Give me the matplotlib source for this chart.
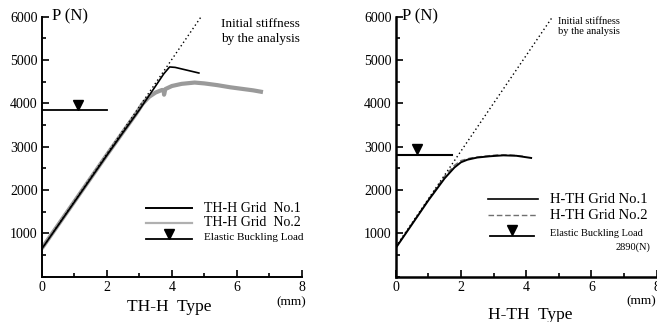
import matplotlib
matplotlib.use("Agg")
import matplotlib.pyplot as plt
from matplotlib.ticker import MultipleLocator

plt.rcParams["font.family"] = ["Liberation Serif", "DejaVu Serif"]

# TH-H type (left panel)
thh_no1_x = [0, 0.5, 1.0, 1.5, 2.0, 2.5, 3.0, 3.5, 3.75, 3.93, 4.1, 4.83]
thh_no1_p = [640, 1180, 1720, 2260, 2800, 3330, 3850, 4400, 4680, 4840, 4830, 4700]
thh_no2_x = [0, 0.5, 1.0, 1.5, 2.0, 2.5, 2.9, 3.1, 3.3, 3.5, 3.7, 3.75, 3.76, 3.8,
             4.0, 4.3, 4.7, 5.0, 5.4, 5.8, 6.2, 6.5, 6.8]
thh_no2_p = [650, 1190, 1730, 2270, 2810, 3340, 3760, 3990, 4150, 4250, 4310, 4300, 4200, 4330,
             4400, 4450, 4480, 4460, 4420, 4370, 4330, 4300, 4260]
thh_init_x = [0, 4.9]
thh_init_p = [640, 6000]
thh_buckle_x = [0, 2.0]
thh_buckle_p = 3850
thh_marker_x = 1.1

# H-TH type (right panel)
hth_no1_x = [0, 0.5, 1.0, 1.5, 1.8, 2.0, 2.2, 2.5, 2.9, 3.3, 3.7, 4.15]
hth_no1_p = [660, 1210, 1760, 2270, 2520, 2640, 2700, 2750, 2780, 2800, 2790, 2740]
hth_no2_x = [0, 0.5, 1.0, 1.5, 1.8, 2.0, 2.3, 2.7, 3.1, 3.5, 3.9]
hth_no2_p = [670, 1220, 1780, 2320, 2570, 2680, 2740, 2780, 2810, 2810, 2780]
hth_init_x = [0, 4.8]
hth_init_p = [690, 5990]
hth_buckle_x = [0, 1.72]
hth_buckle_p = 2810
hth_marker_x = 0.66

fig = plt.figure(figsize=(6.57, 3.22), dpi=100)
ax1 = fig.add_axes([0.0635, 0.1407, 0.3962, 0.8075])
ax2 = fig.add_axes([0.6023, 0.1407, 0.3973, 0.8075])


def style_axes(ax, lw):
    ax.set_xlim(0, 8)
    ax.set_ylim(0, 6000)
    for s in ("top", "right"):
        ax.spines[s].set_visible(False)
    ax.spines["left"].set_linewidth(lw)
    ax.spines["bottom"].set_linewidth(lw)
    ax.xaxis.set_major_locator(MultipleLocator(2))
    ax.xaxis.set_minor_locator(MultipleLocator(1))
    ax.yaxis.set_major_locator(MultipleLocator(1000))
    ax.yaxis.set_minor_locator(MultipleLocator(500))
    ax.tick_params(which="both", direction="in", labelsize=10, width=1.2)
    ax.tick_params(which="major", length=5)
    ax.tick_params(which="minor", length=3)
    ax.tick_params(axis="x", pad=3)
    ax.tick_params(axis="y", pad=3)
    ax.set_yticks(range(1000, 6001, 1000))
    ax.patch.set_visible(False)


# ---- left panel ----
style_axes(ax1, 1.4)
ax1.plot(thh_no2_x, thh_no2_p, color="#9a9a9a", lw=3.0, solid_capstyle="butt")
ax1.plot(thh_no1_x, thh_no1_p, color="black", lw=1.2)
ax1.plot(thh_init_x, thh_init_p, color="black", lw=1.0, ls=(0, (1, 2)))
ax1.plot(thh_buckle_x, [thh_buckle_p] * 2, color="black", lw=1.3)
ax1.plot([thh_marker_x], [thh_buckle_p + 110], marker="v", color="black", ms=7, ls="none")

ax1.text(0.04, 1.0, "P (N)", transform=ax1.transAxes, fontsize=12, va="center", ha="left")
ax1.text(0.69, 0.995, "Initial stiffness\nby the analysis", transform=ax1.transAxes,
         fontsize=9.5, va="top", ha="left", linespacing=1.3)

ax1.plot([0.40, 0.577], [0.263, 0.263], color="black", lw=1.4, transform=ax1.transAxes)
ax1.plot([0.40, 0.577], [0.208, 0.208], color="#b0b0b0", lw=1.6, transform=ax1.transAxes)
ax1.plot([0.40, 0.577], [0.145, 0.145], color="black", lw=1.3, transform=ax1.transAxes)
ax1.plot([0.49], [0.166], marker="v", color="black", ms=7, transform=ax1.transAxes)
ax1.text(0.624, 0.263, "TH-H Grid  No.1", transform=ax1.transAxes, fontsize=10, va="center")
ax1.text(0.624, 0.208, "TH-H Grid  No.2", transform=ax1.transAxes, fontsize=10, va="center")
ax1.text(0.624, 0.15, "Elastic Buckling Load", transform=ax1.transAxes, fontsize=8, va="center")

fig.text(0.257, 0.047, "TH-H  Type", fontsize=12.5, ha="center", va="center")
fig.text(0.443, 0.061, "(mm)", fontsize=9.5, ha="center", va="center")

# ---- right panel ----
style_axes(ax2, 1.8)
ax2.plot(hth_no2_x, hth_no2_p, color="#707070", lw=1.0, ls=(0, (4, 2)))
ax2.plot(hth_no1_x, hth_no1_p, color="black", lw=1.4)
ax2.plot(hth_init_x, hth_init_p, color="black", lw=1.0, ls=(0, (1, 2)))
ax2.plot(hth_buckle_x, [hth_buckle_p] * 2, color="black", lw=1.5)
ax2.plot([hth_marker_x], [hth_buckle_p + 130], marker="v", color="black", ms=7, ls="none")

ax2.text(0.023, 1.0, "P (N)", transform=ax2.transAxes, fontsize=12, va="center", ha="left")
ax2.text(0.622, 1.0, "Initial stiffness\nby the analysis", transform=ax2.transAxes,
         fontsize=7.5, va="top", ha="left", linespacing=1.2)

ax2.plot([0.354, 0.545], [0.298, 0.298], color="black", lw=1.2, transform=ax2.transAxes)
ax2.plot([0.354, 0.545], [0.237, 0.237], color="#707070", lw=1.0, ls=(0, (4, 2)),
         transform=ax2.transAxes)
ax2.plot([0.361, 0.53], [0.158, 0.158], color="black", lw=1.3, transform=ax2.transAxes)
ax2.plot([0.444], [0.18], marker="v", color="black", ms=7, transform=ax2.transAxes)
ax2.text(0.591, 0.298, "H-TH Grid No.1", transform=ax2.transAxes, fontsize=10.5, va="center")
ax2.text(0.591, 0.237, "H-TH Grid No.2", transform=ax2.transAxes, fontsize=10.5, va="center")
ax2.text(0.591, 0.165, "Elastic Buckling Load", transform=ax2.transAxes, fontsize=7.5, va="center")
ax2.text(0.974, 0.113, "2890(N)", transform=ax2.transAxes, fontsize=7.5, va="center", ha="right")

fig.text(0.807, 0.022, "H-TH  Type", fontsize=12.5, ha="center", va="center")
fig.text(0.976, 0.063, "(mm)", fontsize=9.5, ha="center", va="center")

fig.savefig("out.png", dpi=100)
plt.close(fig)
